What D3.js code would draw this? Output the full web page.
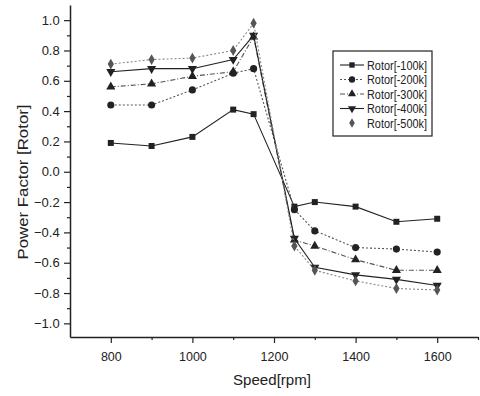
<!DOCTYPE html>
<html>
<head>
<meta charset="utf-8">
<script src="https://cdn.jsdelivr.net/npm/d3@7"></script>
<style>
  body { margin: 0; background: #fff; }
  text { font-family: "Liberation Sans", Arial, sans-serif; fill: #222; }
</style>
</head>
<body>
<svg id="chart" width="480" height="396"></svg>
<script>
// data
const speeds = [800, 900, 1000, 1100, 1150, 1250, 1300, 1400, 1500, 1600];
const rotor100 = [0.19, 0.17, 0.23, 0.41, 0.38, -0.23, -0.20, -0.23, -0.33, -0.31];
const rotor200 = [0.44, 0.44, 0.54, 0.65, 0.68, -0.25, -0.39, -0.50, -0.51, -0.53];
const rotor300 = [0.56, 0.58, 0.63, 0.66, 0.89, -0.45, -0.49, -0.58, -0.65, -0.65];
const rotor400 = [0.66, 0.68, 0.68, 0.74, 0.90, -0.44, -0.63, -0.68, -0.71, -0.75];
const rotor500 = [0.71, 0.74, 0.75, 0.80, 0.98, -0.49, -0.65, -0.72, -0.77, -0.78];
const seriesNames = ['Rotor[-100k]', 'Rotor[-200k]', 'Rotor[-300k]', 'Rotor[-400k]', 'Rotor[-500k]'];
const xTicks = [800, 1000, 1200, 1400, 1600];
const yTicks = [1.0, 0.8, 0.6, 0.4, 0.2, 0.0, -0.2, -0.4, -0.6, -0.8, -1.0];

const series = [
  { name: seriesNames[0], values: rotor100, symbol: d3.symbolSquare, size: 36, dash: null, stroke: '#222' },
  { name: seriesNames[1], values: rotor200, symbol: d3.symbolCircle, size: 40, dash: '2,2', stroke: '#555' },
  { name: seriesNames[2], values: rotor300, symbol: d3.symbolTriangle, size: 36, dash: '5,2,1,2', stroke: '#555' },
  { name: seriesNames[3], values: rotor400, symbol: d3.symbolTriangle, size: 36, dash: null, stroke: '#222', flip: true },
  { name: seriesNames[4], values: rotor500, symbol: d3.symbolDiamond, size: 34, dash: '2,2', stroke: '#888' }
];

const svg = d3.select('#chart');
const x = d3.scaleLinear().domain([700, 1700]).range([70, 478]);
const y = d3.scaleLinear().domain([-1.09, 1.1]).range([337, 5]);

// axes
const xAxis = svg.append('g').attr('transform', 'translate(0,337)')
  .call(d3.axisBottom(x).tickValues(xTicks).tickFormat(d3.format('d')).tickSize(6).tickSizeOuter(0));
svg.append('g').attr('transform', 'translate(0,337)')
  .call(d3.axisBottom(x).tickValues(d3.range(900, 1701, 200)).tickFormat('').tickSize(3).tickSizeOuter(0))
  .select('.domain').remove();
const yAxis = svg.append('g').attr('transform', 'translate(70,0)')
  .call(d3.axisLeft(y).tickValues(yTicks).tickFormat(d3.format('.1f')).tickSize(6).tickSizeOuter(0));
svg.append('g').attr('transform', 'translate(70,0)')
  .call(d3.axisLeft(y).tickValues(d3.range(-0.9, 1.01, 0.2)).tickFormat('').tickSize(3).tickSizeOuter(0))
  .select('.domain').remove();

svg.selectAll('.domain').attr('stroke', '#222').attr('stroke-width', 1.5);
svg.selectAll('.tick line').attr('stroke', '#222').attr('stroke-width', 1.2);
xAxis.selectAll('text').attr('font-size', 12.5).attr('dy', '1.2em');
yAxis.selectAll('text').attr('font-size', 13).attr('dx', '-0.1em');

// axis titles
svg.append('text').attr('x', 272).attr('y', 385).attr('text-anchor', 'middle')
  .attr('font-size', 15).attr('textLength', 78).attr('lengthAdjust', 'spacingAndGlyphs')
  .text('Speed[rpm]');
svg.append('text').attr('transform', 'translate(28,182) rotate(-90)').attr('text-anchor', 'middle')
  .attr('font-size', 15.5).attr('textLength', 155).attr('lengthAdjust', 'spacingAndGlyphs')
  .text('Power Factor [Rotor]');

// lines and markers
const line = d3.line().x((d, i) => x(speeds[i])).y(d => y(d));

series.forEach(s => {
  svg.append('path')
    .datum(s.values)
    .attr('d', line)
    .attr('fill', 'none')
    .attr('stroke', s.stroke)
    .attr('stroke-width', 1.1)
    .attr('stroke-dasharray', s.dash);

  svg.append('g').selectAll('path')
    .data(s.values)
    .join('path')
    .attr('d', d3.symbol().type(s.symbol).size(s.size))
    .attr('transform', (d, i) => `translate(${x(speeds[i])},${y(d)})` + (s.flip ? ' rotate(180)' : ''))
    .attr('fill', s.name === seriesNames[4] ? '#555' : '#222');
});

// legend
const legend = svg.append('g').attr('transform', 'translate(333,51)');
legend.append('rect').attr('width', 99).attr('height', 85)
  .attr('fill', '#fff').attr('stroke', '#222').attr('stroke-width', 1.2);
series.forEach((s, i) => {
  const row = legend.append('g').attr('transform', `translate(0,${14 + i * 14.5})`);
  if (i < 4) {
    row.append('line').attr('x1', 7).attr('x2', 31).attr('y1', 0).attr('y2', 0)
      .attr('stroke', s.stroke).attr('stroke-width', 1.1).attr('stroke-dasharray', s.dash);
  }
  row.append('path')
    .attr('d', d3.symbol().type(s.symbol).size(s.size * 0.8))
    .attr('transform', 'translate(19,0)' + (s.flip ? ' rotate(180)' : ''))
    .attr('fill', i === 4 ? '#555' : '#222');
  row.append('text').attr('x', 34).attr('y', 4.5).attr('font-size', 12.5)
    .attr('textLength', 60).attr('lengthAdjust', 'spacingAndGlyphs').text(s.name);
});
</script>
</body>
</html>
